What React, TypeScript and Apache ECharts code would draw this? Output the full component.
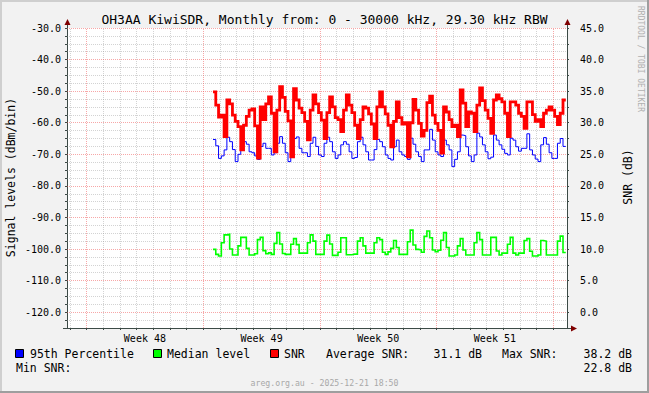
import React, { useEffect, useRef } from 'react';
import * as echarts from 'echarts';

const TITLE = 'OH3AA KiwiSDR, Monthly from: 0 - 30000 kHz, 29.30 kHz RBW';
const LEFT_TITLE = 'Signal levels (dBm/bin)';
const RIGHT_TITLE = 'SNR (dB)';
const FOOTER = 'areg.org.au - 2025-12-21 18:50';
const WATERMARK = 'RRDTOOL / TOBI OETIKER';

// time axis in hours over the 30-day window
const X_MAX_HOURS = 720;
const DATA_START_HOUR = 210.24;
const STEP_HOURS = 4;
const DAY_LINE_START = 4.2;
const WEEK_LINE_START = 28.2;
const weekLabels = ['Week 48', 'Week 49', 'Week 50', 'Week 51'];

const legendNames = ['95th Percentile', 'Median level', 'SNR'];
const statLabels = ['Average SNR:', 'Max SNR:', 'Min SNR:'];
const statValues = ['31.1 dB', '38.2 dB', '22.8 dB'];

// 95th percentile level (dBm/bin)
const percentile95 = [
  -65.3,
  -65.3, -67.3, -71.3, -70.5, -68.6, -64.6, -66.0, -68.5, -72.3, -70.0,
  -68.6, -66.0, -66.8, -69.2, -69.5, -70.5, -71.6, -67.5, -66.5, -68.1,
  -68.1, -70.2, -69.5, -66.5, -64.4, -66.5, -69.5, -72.3, -70.7, -65.0,
  -64.5, -68.1, -69.5, -69.5, -70.7, -66.5, -64.6, -67.5, -70.2, -70.7,
  -66.5, -64.6, -66.0, -69.2, -71.3, -70.2, -67.0, -66.0, -66.8, -69.2,
  -71.3, -71.0, -66.0, -64.6, -67.0, -69.2, -71.8, -71.8, -68.5, -65.3,
  -66.0, -67.6, -70.2, -71.3, -71.8, -67.6, -65.5, -69.2, -70.2, -70.7,
  -71.6, -64.9, -66.8, -69.2, -70.7, -72.3, -68.6, -68.6, -62.1, -65.5,
  -69.2, -70.2, -70.7, -65.5, -67.0, -68.6, -73.9, -71.6, -69.2, -63.9,
  -64.1, -67.6, -70.5, -72.3, -70.2, -63.3, -64.5, -67.0, -69.2, -71.4,
  -70.9, -63.9, -65.5, -67.0, -68.4, -69.7, -70.2, -64.9, -65.5, -67.6,
  -69.0, -68.1, -68.1, -63.5, -68.6, -70.2, -71.5, -72.3, -67.0, -64.7,
  -66.8, -69.5, -71.3, -71.3, -66.5, -65.0, -67.5,
];

// median level (dBm/bin)
const medianLevel = [
  -100.1,
  -100.1, -101.7, -102.2, -98.0, -95.5, -95.3, -100.0, -101.9, -101.9, -99.0,
  -96.3, -96.3, -99.8, -101.9, -101.9, -101.5, -97.0, -96.3, -100.5, -101.5,
  -101.2, -101.7, -98.2, -94.8, -98.4, -101.4, -101.7, -101.7, -98.5, -96.7,
  -98.6, -101.3, -101.3, -101.3, -98.0, -95.5, -97.5, -101.7, -101.7, -101.7,
  -97.5, -95.6, -98.4, -102.0, -102.0, -101.0, -96.4, -96.4, -101.8, -101.8,
  -101.6, -101.6, -97.5, -96.4, -99.0, -101.3, -101.3, -101.3, -98.0, -96.4,
  -97.0, -101.0, -101.7, -100.9, -99.8, -97.3, -99.5, -101.7, -101.7, -101.7,
  -97.7, -94.0, -98.7, -100.1, -100.3, -101.0, -96.0, -94.3, -96.4, -100.3,
  -100.8, -100.4, -97.2, -94.8, -99.5, -102.2, -102.2, -101.9, -99.0, -96.7,
  -100.3, -101.9, -101.9, -101.9, -98.0, -94.8, -97.0, -101.9, -101.9, -101.9,
  -96.3, -96.3, -100.6, -101.9, -101.3, -101.3, -98.5, -96.3, -101.3, -101.9,
  -101.3, -101.3, -97.3, -96.7, -100.7, -102.2, -102.2, -101.9, -97.3, -97.5,
  -101.9, -101.9, -101.9, -101.9, -97.5, -95.9, -101.1,
];

// SNR (dB), right axis
const snr = [
  34.9,
  34.9, 32.8, 30.9, 31.2, 27.8, 33.6, 33.0, 31.2, 30.2, 29.4,
  25.7, 29.6, 31.0, 32.0, 32.2, 29.5, 24.4, 32.5, 30.5, 33.0,
  34.1, 31.5, 25.4, 32.0, 35.7, 34.0, 31.8, 30.3, 24.6, 35.4,
  33.6, 32.3, 31.6, 30.2, 27.3, 32.0, 34.4, 33.0, 31.6, 30.4,
  27.5, 31.6, 34.1, 32.5, 30.8, 30.5, 28.6, 32.0, 34.4, 32.8,
  31.6, 29.6, 27.5, 30.5, 32.5, 32.3, 31.4, 29.8, 27.5, 32.5,
  34.9, 32.5, 31.4, 29.6, 26.2, 30.2, 33.3, 30.8, 29.8, 30.0,
  24.6, 30.0, 33.7, 32.0, 29.9, 27.9, 28.8, 33.2, 34.2, 31.2,
  29.9, 28.8, 25.2, 32.5, 31.7, 30.5, 29.4, 29.6, 27.8, 35.2,
  33.1, 29.4, 31.7, 31.5, 28.6, 32.8, 35.5, 33.5, 32.0, 30.7,
  28.3, 33.6, 34.4, 33.8, 33.3, 31.5, 27.8, 33.3, 33.3, 32.8,
  31.5, 31.0, 29.1, 33.3, 33.3, 31.3, 30.2, 30.5, 29.4, 31.5,
  32.0, 32.5, 32.0, 31.0, 29.7, 31.5, 33.6,
];

const FONT = "'DejaVu Sans Mono', monospace";
const AXIS_COLOR = '#3c4a46';
const ARROW_COLOR = '#7f0000';
const GRID_COLOR = 'rgba(140,140,140,0.38)';
const MGRID_COLOR = 'rgba(240,80,80,0.5)';

export default function App() {
  const ref = useRef<HTMLDivElement>(null);

  useEffect(() => {
    if (!ref.current) return;
    const chart = echarts.init(ref.current, null, { renderer: 'svg' });

    const times = percentile95.map((_, i) => DATA_START_HOUR + i * STEP_HOURS);
    const pairs = (arr: number[]) => arr.map((v, i) => [times[i], v]);

    const dayLines: number[] = [];
    for (let h = DAY_LINE_START; h < X_MAX_HOURS; h += 24) dayLines.push(h);
    const weekLines: number[] = [];
    for (let h = WEEK_LINE_START; h < X_MAX_HOURS; h += 168) weekLines.push(h);
    const minorDays = dayLines.filter((h) => !weekLines.some((w) => Math.abs(w - h) < 0.01));
    const weekLabelPos = weekLabels.map((_, k) => WEEK_LINE_START + 84 + 168 * k);

    const levelMinor: number[] = [];
    const levelMajor: number[] = [];
    for (let v = -122.5; v <= -30; v += 2.5) {
      if (Math.abs(v % 10) < 1e-6) levelMajor.push(v);
      else levelMinor.push(v);
    }

    const gridMarks = (xs: number[], ys: number[], color: string) => ({
      silent: true,
      symbol: ['none', 'none'],
      label: { show: false },
      emphasis: { disabled: true },
      lineStyle: { color, width: 1, type: [1, 1] },
      data: [...xs.map((x) => ({ xAxis: x })), ...ys.map((y) => ({ yAxis: y }))],
    });

    const txt = (text: string, x: number, y: number, extra: any = {}) => ({
      type: 'text',
      x,
      y,
      z: 50,
      rotation: extra.rotation || 0,
      style: {
        text,
        fill: extra.fill || '#000',
        fontSize: extra.fontSize || 11.5,
        fontFamily: FONT,
        align: extra.align || 'left',
        verticalAlign: 'middle',
      },
    });

    const box = (x: number, color: string) => ({
      type: 'rect',
      z: 50,
      shape: { x: x + 0.5, y: 349.5, width: 8, height: 8 },
      style: { fill: color, stroke: '#000', lineWidth: 1 },
    });

    const option: any = {
      animation: false,
      backgroundColor: '#f2f2f2',
      grid: {
        left: 67,
        top: 28,
        width: 500,
        height: 300,
        show: true,
        backgroundColor: '#ffffff',
        borderWidth: 0,
        outerBoundsMode: 'none',
      },
      xAxis: {
        type: 'value',
        min: 0,
        max: X_MAX_HOURS,
        axisLine: { show: true, onZero: false, lineStyle: { color: AXIS_COLOR, width: 1 } },
        axisTick: { show: true, customValues: dayLines, length: 2, lineStyle: { color: AXIS_COLOR } },
        axisLabel: {
          customValues: weekLabelPos,
          formatter: (v: number) => {
            const k = weekLabelPos.findIndex((p) => Math.abs(p - v) < 0.5);
            return k >= 0 ? weekLabels[k] : '';
          },
          fontFamily: FONT,
          fontSize: 10,
          color: '#000',
          margin: 5,
        },
        splitLine: { show: false },
      },
      yAxis: [
        {
          type: 'value',
          min: -125,
          max: -30,
          interval: 2.5,
          position: 'left',
          axisLine: { show: true, lineStyle: { color: AXIS_COLOR, width: 1 } },
          axisTick: { show: true, length: 2, lineStyle: { color: AXIS_COLOR } },
          axisLabel: {
            formatter: (v: number) => (Math.abs(v % 10) < 1e-6 ? v.toFixed(1) : ''),
            fontFamily: FONT,
            fontSize: 10,
            color: '#000',
            margin: 6,
          },
          splitLine: { show: false },
        },
        {
          type: 'value',
          min: -2.5,
          max: 45,
          interval: 2.5,
          position: 'right',
          axisLine: { show: true, lineStyle: { color: AXIS_COLOR, width: 1 } },
          axisTick: { show: true, length: 2, lineStyle: { color: AXIS_COLOR } },
          axisLabel: {
            formatter: (v: number) => (Math.abs(v % 5) < 1e-6 ? v.toFixed(1) : ''),
            fontFamily: FONT,
            fontSize: 10,
            color: '#000',
            margin: 13,
          },
          splitLine: { show: false },
        },
      ],
      series: [
        {
          type: 'line',
          data: [],
          silent: true,
          z: 1,
          markLine: gridMarks(minorDays, levelMinor, GRID_COLOR),
        },
        {
          type: 'line',
          data: [],
          silent: true,
          z: 2,
          markLine: gridMarks(weekLines, levelMajor, MGRID_COLOR),
        },
        {
          name: legendNames[0],
          type: 'line',
          step: 'start',
          showSymbol: false,
          symbol: 'none',
          z: 5,
          lineStyle: { color: '#0000ff', width: 1, join: 'miter' },
          data: pairs(percentile95),
        },
        {
          name: legendNames[1],
          type: 'line',
          step: 'start',
          showSymbol: false,
          symbol: 'none',
          z: 6,
          lineStyle: { color: '#00ff00', width: 1.6, join: 'miter' },
          data: pairs(medianLevel),
        },
        {
          name: legendNames[2],
          type: 'line',
          step: 'start',
          yAxisIndex: 1,
          showSymbol: false,
          symbol: 'none',
          z: 7,
          lineStyle: { color: '#ff0000', width: 2.8, join: 'miter' },
          data: pairs(snr),
        },
      ],
      graphic: [
        { type: 'rect', z: 40, shape: { x: 0, y: 0, width: 649, height: 2 }, style: { fill: '#cfcfcf' } },
        { type: 'rect', z: 40, shape: { x: 0, y: 0, width: 2, height: 393 }, style: { fill: '#cfcfcf' } },
        { type: 'rect', z: 40, shape: { x: 647, y: 0, width: 2, height: 393 }, style: { fill: '#9e9e9e' } },
        { type: 'rect', z: 40, shape: { x: 0, y: 391, width: 649, height: 2 }, style: { fill: '#9e9e9e' } },
        txt(TITLE, 324.5, 19.5, { align: 'center', fontSize: 13 }),
        txt(LEFT_TITLE, 10.5, 177.5, { align: 'center', rotation: Math.PI / 2 }),
        txt(RIGHT_TITLE, 628, 177, { align: 'center', rotation: Math.PI / 2 }),
        txt(WATERMARK, 640, 59, { align: 'center', rotation: -Math.PI / 2, fontSize: 8, fill: '#b0b0b0' }),
        txt(FOOTER, 324.5, 382.5, { align: 'center', fontSize: 8.2, fill: '#a8a8a8' }),
        box(15, '#0000ff'),
        txt(legendNames[0], 30, 354),
        box(153, '#00ff00'),
        txt(legendNames[1], 167, 354),
        box(270, '#ff0000'),
        txt(legendNames[2], 284, 354),
        txt(statLabels[0], 326, 354),
        txt(statValues[0], 482, 354, { align: 'right' }),
        txt(statLabels[1], 502, 354),
        txt(statValues[1], 632, 354, { align: 'right' }),
        txt(statLabels[2], 16, 368),
        txt(statValues[2], 632, 368, { align: 'right' }),
        // axis extensions and arrows
        { type: 'line', z: 45, shape: { x1: 67.5, y1: 28, x2: 67.5, y2: 22 }, style: { stroke: AXIS_COLOR, lineWidth: 1 } },
        { type: 'line', z: 45, shape: { x1: 567.5, y1: 28, x2: 567.5, y2: 22 }, style: { stroke: AXIS_COLOR, lineWidth: 1 } },
        { type: 'line', z: 45, shape: { x1: 63, y1: 328.5, x2: 67, y2: 328.5 }, style: { stroke: AXIS_COLOR, lineWidth: 1 } },
        { type: 'line', z: 45, shape: { x1: 567, y1: 328.5, x2: 572, y2: 328.5 }, style: { stroke: AXIS_COLOR, lineWidth: 1 } },
        { type: 'polygon', z: 46, shape: { points: [[64.5, 25], [70.5, 25], [67.5, 19]] }, style: { fill: ARROW_COLOR } },
        { type: 'polygon', z: 46, shape: { points: [[564.5, 25], [570.5, 25], [567.5, 19]] }, style: { fill: ARROW_COLOR } },
        { type: 'polygon', z: 46, shape: { points: [[571, 325.5], [571, 331.5], [577, 328.5]] }, style: { fill: ARROW_COLOR } },
      ],
    };

    chart.setOption(option);
    return () => chart.dispose();
  }, []);

  return (
    <div
      ref={ref}
      style={{ position: 'fixed', left: 0, top: 0, width: 649, height: 393 }}
    />
  );
}
